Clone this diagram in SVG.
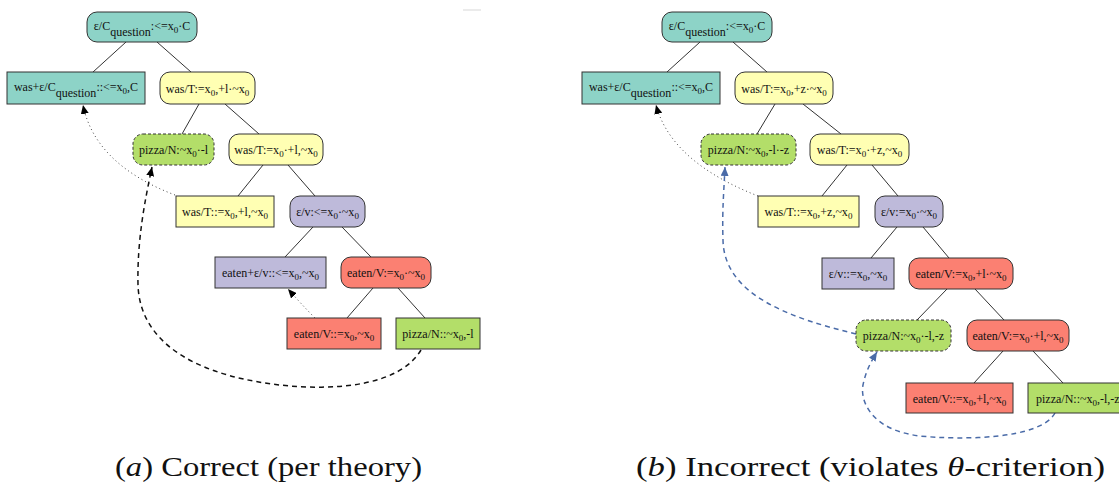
<svg xmlns="http://www.w3.org/2000/svg" width="1119" height="485" viewBox="0 0 1119 485">
<style>
.n{stroke:#333;stroke-width:1}
.t{font-family:"Liberation Serif","Times New Roman",serif;font-size:12px;fill:#111;text-anchor:middle}
.ts{font-family:"Liberation Serif","Times New Roman",serif;font-size:12px;fill:#111}
.s{font-size:9px}
.teal{fill:#8dd3c7}.yel{fill:#ffffb3}.pur{fill:#bebada}.red{fill:#fb8072}.grn{fill:#b3de69}
.dash{stroke-dasharray:3,2}
.e{stroke:#333;stroke-width:1;fill:none}
.dot{stroke:#444;stroke-width:1;fill:none;stroke-dasharray:1,3}
.dsh{stroke:#111;stroke-width:1.5;fill:none;stroke-dasharray:5,4}
.bl{stroke:#4a6ba8;stroke-width:1.5;fill:none;stroke-dasharray:5,4}
.cap{font-family:"Liberation Serif","Times New Roman",serif;font-size:28px;fill:#111}
</style>
<defs>
<marker id="ah" markerWidth="10" markerHeight="8" refX="9" refY="4" orient="auto" markerUnits="userSpaceOnUse"><path d="M0,0 L9,4 L0,8 z" fill="#000"/></marker>
<marker id="ahb" markerWidth="10" markerHeight="8" refX="9" refY="4" orient="auto" markerUnits="userSpaceOnUse"><path d="M0,0 L9,4 L0,8 z" fill="#4a6ba8"/></marker>
</defs>
<rect width="1119" height="485" fill="#fff"/>
<line x1="463" y1="10" x2="481" y2="10" stroke="#e4e4e4" stroke-width="1.5"/>

<g id="connectors">
<line class="e" x1="126" y1="42" x2="93" y2="72"/>
<line class="e" x1="157" y1="42" x2="191" y2="72"/>
<line class="e" x1="199" y1="104" x2="182" y2="134"/>
<line class="e" x1="225" y1="104" x2="259" y2="134"/>
<line class="e" x1="263" y1="165" x2="238" y2="196"/>
<line class="e" x1="288" y1="165" x2="315" y2="196"/>
<line class="e" x1="313" y1="227" x2="285" y2="257"/>
<line class="e" x1="342" y1="227" x2="371" y2="257"/>
<line class="e" x1="373" y1="288" x2="347" y2="318"/>
<line class="e" x1="398" y1="288" x2="425" y2="318"/>
<line class="e" x1="700" y1="42" x2="667" y2="72"/>
<line class="e" x1="733" y1="42" x2="767" y2="72"/>
<line class="e" x1="775" y1="104" x2="757" y2="134"/>
<line class="e" x1="803" y1="104" x2="841" y2="134"/>
<line class="e" x1="847" y1="165" x2="822" y2="196"/>
<line class="e" x1="872" y1="165" x2="898" y2="196"/>
<line class="e" x1="897" y1="227" x2="871" y2="258"/>
<line class="e" x1="923" y1="227" x2="949" y2="258"/>
<line class="e" x1="947" y1="289" x2="917" y2="320"/>
<line class="e" x1="975" y1="289" x2="1004" y2="320"/>
<line class="e" x1="1003" y1="351" x2="974" y2="383"/>
<line class="e" x1="1033" y1="351" x2="1063" y2="383"/>
<path class="dot" d="M175,195 C130,178 92,150 83,105" marker-end="url(#ah)"/>
<path class="dot" d="M315,318 C305,308 296,298 288,289" marker-end="url(#ah)"/>
<path class="dsh" d="M421,350 C400,385 340,390 290,386 C200,378 140,345 138,285 C137,240 145,200 152,167" marker-end="url(#ah)"/>
<path class="dot" d="M758,196 C712,178 668,150 656,105" marker-end="url(#ah)"/>
<path class="bl" d="M856,334 C790,318 724,295 723,240 C722,210 724,190 725,167" marker-end="url(#ahb)"/>
<path class="bl" d="M1055,413 C1040,440 960,440 920,436 C870,430 860,400 863,385 C866,370 872,360 877,352" marker-end="url(#ahb)"/>
</g>

<g id="L1"><rect class="n teal" x="87" y="12" width="110" height="30" rx="10"/><text class="t" x="142" y="29.5">ε/C<tspan dy="6">question</tspan><tspan dy="-6">:&lt;=x</tspan><tspan class="s" dy="3">0</tspan><tspan dy="-3">·C</tspan></text></g>
<g id="L2"><rect class="n teal" x="7" y="72" width="138" height="32"/><text class="t" x="76" y="90.5">was+ε/C<tspan dy="6">question</tspan><tspan dy="-6">::&lt;=x</tspan><tspan class="s" dy="3">0</tspan><tspan dy="-3">,C</tspan></text></g>
<g id="L3"><rect class="n yel" x="160" y="72" width="95" height="32" rx="10"/><text class="t" x="207.5" y="92.5">was/T:=x<tspan class="s" dy="3">0</tspan><tspan dy="-3">,+l·~x</tspan><tspan class="s" dy="3">0</tspan></text></g>
<g id="L4"><rect class="n grn dash" x="133" y="134" width="81" height="31" rx="10"/><text class="t" x="173.5" y="154">pizza/N:~x<tspan class="s" dy="3">0</tspan><tspan dy="-3">·-l</tspan></text></g>
<g id="L5"><rect class="n yel" x="229" y="134" width="94" height="31" rx="10"/><text class="t" x="276" y="154">was/T:=x<tspan class="s" dy="3">0</tspan><tspan dy="-3">·+l,~x</tspan><tspan class="s" dy="3">0</tspan></text></g>
<g id="L6"><rect class="n yel" x="176" y="196" width="98" height="31"/><text class="t" x="225" y="216">was/T::=x<tspan class="s" dy="3">0</tspan><tspan dy="-3">,+l,~x</tspan><tspan class="s" dy="3">0</tspan></text></g>
<g id="L7"><rect class="n pur" x="290" y="196" width="75" height="31" rx="10"/><text class="t" x="327.5" y="216">ε/v:&lt;=x<tspan class="s" dy="3">0</tspan><tspan dy="-3">·~x</tspan><tspan class="s" dy="3">0</tspan></text></g>
<g id="L8"><rect class="n pur" x="215" y="257" width="111" height="31"/><text class="t" x="270.5" y="277">eaten+ε/v::&lt;=x<tspan class="s" dy="3">0</tspan><tspan dy="-3">,~x</tspan><tspan class="s" dy="3">0</tspan></text></g>
<g id="L9"><rect class="n red" x="341" y="257" width="90" height="31" rx="10"/><text class="t" x="386" y="277">eaten/V:=x<tspan class="s" dy="3">0</tspan><tspan dy="-3">·~x</tspan><tspan class="s" dy="3">0</tspan></text></g>
<g id="L10"><rect class="n red" x="287" y="318" width="94" height="31"/><text class="t" x="334" y="338">eaten/V::=x<tspan class="s" dy="3">0</tspan><tspan dy="-3">,~x</tspan><tspan class="s" dy="3">0</tspan></text></g>
<g id="L11"><rect class="n grn" x="396" y="318" width="84" height="31"/><text class="t" x="438" y="338">pizza/N::~x<tspan class="s" dy="3">0</tspan><tspan dy="-3">,-l</tspan></text></g>

<g id="R1"><rect class="n teal" x="662" y="12" width="110" height="30" rx="10"/><text class="t" x="717" y="29.5">ε/C<tspan dy="6">question</tspan><tspan dy="-6">:&lt;=x</tspan><tspan class="s" dy="3">0</tspan><tspan dy="-3">·C</tspan></text></g>
<g id="R2"><rect class="n teal" x="582" y="72" width="138" height="32"/><text class="t" x="651" y="90.5">was+ε/C<tspan dy="6">question</tspan><tspan dy="-6">::&lt;=x</tspan><tspan class="s" dy="3">0</tspan><tspan dy="-3">,C</tspan></text></g>
<g id="R3"><rect class="n yel" x="735" y="72" width="98" height="32" rx="10"/><text class="t" x="784" y="92.5">was/T:=x<tspan class="s" dy="3">0</tspan><tspan dy="-3">,+z·~x</tspan><tspan class="s" dy="3">0</tspan></text></g>
<g id="R4"><rect class="n grn dash" x="701" y="134" width="95" height="31" rx="10"/><text class="t" x="748.5" y="154">pizza/N:~x<tspan class="s" dy="3">0</tspan><tspan dy="-3">,-l·-z</tspan></text></g>
<g id="R5"><rect class="n yel" x="810" y="134" width="99" height="31" rx="10"/><text class="t" x="859.5" y="154">was/T:=x<tspan class="s" dy="3">0</tspan><tspan dy="-3">·+z,~x</tspan><tspan class="s" dy="3">0</tspan></text></g>
<g id="R6"><rect class="n yel" x="758" y="196" width="101" height="31"/><text class="t" x="808.5" y="216">was/T::=x<tspan class="s" dy="3">0</tspan><tspan dy="-3">,+z,~x</tspan><tspan class="s" dy="3">0</tspan></text></g>
<g id="R7"><rect class="n pur" x="875" y="196" width="68" height="31" rx="10"/><text class="t" x="909" y="216">ε/v:=x<tspan class="s" dy="3">0</tspan><tspan dy="-3">·~x</tspan><tspan class="s" dy="3">0</tspan></text></g>
<g id="R8"><rect class="n pur" x="822" y="258" width="72" height="31"/><text class="t" x="858" y="278">ε/v::=x<tspan class="s" dy="3">0</tspan><tspan dy="-3">,~x</tspan><tspan class="s" dy="3">0</tspan></text></g>
<g id="R9"><rect class="n red" x="909" y="258" width="104" height="31" rx="10"/><text class="t" x="961" y="278">eaten/V:=x<tspan class="s" dy="3">0</tspan><tspan dy="-3">,+l·~x</tspan><tspan class="s" dy="3">0</tspan></text></g>
<g id="R10"><rect class="n grn dash" x="856" y="320" width="95" height="31" rx="10"/><text class="t" x="903.5" y="340">pizza/N:~x<tspan class="s" dy="3">0</tspan><tspan dy="-3">·-l,-z</tspan></text></g>
<g id="R11"><rect class="n red" x="967" y="320" width="102" height="31" rx="10"/><text class="t" x="1018" y="340">eaten/V:=x<tspan class="s" dy="3">0</tspan><tspan dy="-3">·+l,~x</tspan><tspan class="s" dy="3">0</tspan></text></g>
<g id="R12"><rect class="n red" x="906" y="383" width="107" height="30"/><text class="t" x="959.5" y="402.5">eaten/V::=x<tspan class="s" dy="3">0</tspan><tspan dy="-3">,+l,~x</tspan><tspan class="s" dy="3">0</tspan></text></g>
<g id="R13"><rect class="n grn" x="1028" y="383" width="100" height="30"/><text class="ts" x="1036" y="402.5">pizza/N::~x<tspan class="s" dy="3">0</tspan><tspan dy="-3">,-l,-z</tspan></text></g>

<g id="captions">
<text class="cap" x="115" y="476" textLength="307" lengthAdjust="spacingAndGlyphs">(<tspan font-style="italic">a</tspan>) Correct (per theory)</text>
<text class="cap" x="636" y="476" textLength="469" lengthAdjust="spacingAndGlyphs">(<tspan font-style="italic">b</tspan>) Incorrect (violates <tspan font-style="italic">θ</tspan>-criterion)</text>
</g>
</svg>
